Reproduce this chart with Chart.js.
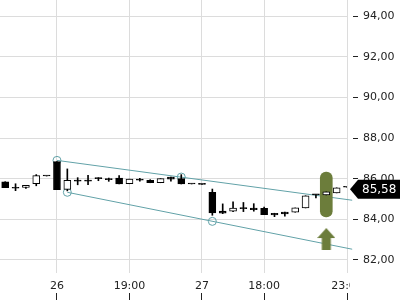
<!DOCTYPE html>
<html>
<head>
<meta charset="utf-8">
<script src="https://cdn.jsdelivr.net/npm/chart.js@4.4.0/dist/chart.umd.min.js"></script>
<style>
    html, body { margin: 0; padding: 0; background: #fff; }
</style>
</head>
<body>
<canvas id="myChart" width="400" height="300"></canvas>
<script>
// candles (one per bar, left to right)
const opens  = [85.85, 85.57, 85.57, 85.75, 86.13, 86.84, 85.47, 85.93, 85.93, 86.00, 85.95, 86.03, 85.75, 85.97, 85.92, 85.80, 86.08,
                86.00, 85.74, 85.72, 85.33, 84.40, 84.40, 84.56, 84.55, 84.54, 84.30, 84.36, 84.35, 84.56, 85.20, 85.20, 85.30, 85.58];
const highs  = [85.85, 85.75, 85.67, 86.20, 86.13, 86.84, 86.48, 86.05, 86.16, 86.05, 86.03, 86.15, 85.98, 86.02, 85.95, 86.00, 86.08,
                86.20, 85.74, 85.72, 85.49, 84.76, 84.86, 84.83, 84.77, 84.60, 84.30, 84.36, 84.56, 85.16, 85.20, 85.35, 85.55, 85.58];
const lows   = [85.56, 85.41, 85.52, 85.65, 86.13, 85.46, 85.40, 85.70, 85.70, 85.90, 85.87, 85.74, 85.75, 85.88, 85.80, 85.80, 85.88,
                85.74, 85.74, 85.72, 84.20, 84.28, 84.38, 84.38, 84.40, 84.23, 84.13, 84.15, 84.35, 84.56, 85.05, 85.20, 85.30, 85.58];
const closes = [85.56, 85.53, 85.67, 86.15, 86.13, 85.46, 85.92, 85.88, 85.88, 86.00, 85.95, 85.74, 85.98, 85.93, 85.80, 86.00, 85.98,
                85.74, 85.74, 85.72, 84.31, 84.30, 84.55, 84.53, 84.47, 84.23, 84.22, 84.27, 84.56, 85.16, 85.20, 85.35, 85.55, 85.58];

const xTickIdx = [5, 12, 19, 25, 33];
const xTickLabels = ['26', '19:00', '27', '18:00', '23:00'];
const yTickValues = [82, 84, 86, 88, 90, 92, 94];

// trend channel
const upperLine = [[5, 86.90], [33.5, 84.94]];
const lowerLine = [[6, 85.33], [33.5, 82.53]];
const touchPoints = [[5, 86.90], [17, 86.08], [6, 85.33], [20, 83.90]];

// signal marker
const signalIdx = 31;
const signalRange = [84.12, 86.33];
const arrowValue = 83.03;
const lastPrice = 85.58;

const teal = '#62a2a8';
const olive = '#6c7d3b';
const fmt = v => v.toFixed(2).replace('.', ',');

// little up arrow used as point style
const arrowImg = document.createElement('canvas');
arrowImg.width = 18;
arrowImg.height = 22;
const a = arrowImg.getContext('2d');
a.fillStyle = olive;
a.beginPath();
a.moveTo(9, 0);
a.lineTo(18, 10);
a.lineTo(13.5, 10);
a.lineTo(13.5, 22);
a.lineTo(4.5, 22);
a.lineTo(4.5, 10);
a.lineTo(0, 10);
a.closePath();
a.fill();

const bodies = [];
const wicks = [];
const bodyColors = [];
for (let i = 0; i < opens.length; i++) {
    bodies.push({ x: i, y: [opens[i], closes[i]] });
    wicks.push({ x: i, y: [lows[i], highs[i]] });
    bodyColors.push(closes[i] > opens[i] ? '#ffffff' : '#000000');
}

const priceTag = {
    id: 'priceTag',
    afterDraw(chart) {
        const ctx = chart.ctx;
        const area = chart.chartArea;
        const y = chart.scales.y.getPixelForValue(lastPrice) + 2;
        ctx.save();
        // last time label is cut at the price axis
        ctx.fillStyle = '#fff';
        ctx.fillRect(area.right + 3, area.bottom + 2, 60, 19);
        ctx.fillStyle = '#000';
        ctx.beginPath();
        ctx.moveTo(area.right + 3, y);
        ctx.lineTo(area.right + 11, y - 9.5);
        ctx.lineTo(400, y - 9.5);
        ctx.lineTo(400, y + 9.5);
        ctx.lineTo(area.right + 11, y + 9.5);
        ctx.closePath();
        ctx.fill();
        ctx.fillStyle = '#fff';
        ctx.font = '12px "DejaVu Sans"';
        ctx.textBaseline = 'middle';
        ctx.textAlign = 'left';
        ctx.fillText(fmt(lastPrice), area.right + 15, y + 0.5);
        ctx.restore();
    }
};

Chart.defaults.font.family = '"DejaVu Sans", sans-serif';
Chart.defaults.font.size = 11;

const ctx = document.getElementById('myChart').getContext('2d');
const myChart = new Chart(ctx, {
    type: 'bar',
    data: {
        datasets: [
            {
                type: 'line',
                data: upperLine.map(p => ({ x: p[0], y: p[1] })),
                borderColor: teal,
                borderWidth: 1,
                pointRadius: 0,
                clip: false,
                order: 7,
            },
            {
                type: 'line',
                data: lowerLine.map(p => ({ x: p[0], y: p[1] })),
                borderColor: teal,
                borderWidth: 1,
                pointRadius: 0,
                clip: false,
                order: 7,
            },
            {
                type: 'line',
                data: touchPoints.map(p => ({ x: p[0], y: p[1] })),
                showLine: false,
                pointRadius: 4,
                pointBorderWidth: 1,
                pointBorderColor: teal,
                pointBackgroundColor: 'rgba(0,0,0,0)',
                clip: false,
                order: 6,
            },
            {
                data: [{ x: signalIdx, y: signalRange }],
                backgroundColor: olive,
                borderRadius: 6,
                borderSkipped: false,
                barThickness: 12,
                grouped: false,
                order: 5,
            },
            {
                data: wicks,
                backgroundColor: '#000',
                barThickness: 1,
                grouped: false,
                order: 4,
            },
            {
                data: bodies,
                backgroundColor: bodyColors,
                borderColor: '#000',
                borderWidth: 1,
                borderSkipped: false,
                barThickness: 7,
                minBarLength: 1,
                grouped: false,
                order: 3,
            },
            {
                type: 'line',
                data: [{ x: signalIdx, y: arrowValue }],
                showLine: false,
                pointStyle: arrowImg,
                clip: false,
                order: 2,
            },
        ]
    },
    options: {
        responsive: false,
        animation: false,
        layout: { padding: 0, autoPadding: false },
        plugins: {
            legend: { display: false },
            tooltip: { enabled: false },
        },
        scales: {
            x: {
                type: 'linear',
                min: -0.5,
                max: 33,
                offset: false,
                afterBuildTicks: s => { s.ticks = xTickIdx.map(v => ({ value: v })); },
                afterFit: s => { s.height = 27; s.paddingLeft = 0; },
                border: { display: false },
                grid: {
                    offset: false,
                    color: '#dcdcdc',
                    tickLength: 27,
                    tickColor: '#222',
                    tickBorderDash: [0, 20, 7, 0],
                },
                ticks: {
                    padding: -20,
                    autoSkip: false,
                    maxRotation: 0,
                    color: '#222',
                    callback: v => xTickLabels[xTickIdx.indexOf(v)],
                },
            },
            y: {
                position: 'right',
                min: 81.36,
                max: 94.79,
                beginAtZero: false,
                afterBuildTicks: s => { s.ticks = yTickValues.map(v => ({ value: v })); },
                afterFit: s => { s.width = 53; s.paddingTop = 0; s.paddingBottom = 0; },
                border: { display: false },
                grid: {
                    color: '#dcdcdc',
                    tickLength: 11,
                    tickColor: '#222',
                    tickBorderDash: [0, 6, 5, 0],
                },
                ticks: {
                    padding: 5,
                    color: '#222',
                    callback: v => fmt(v),
                },
            },
        }
    },
    plugins: [priceTag]
});
</script>
</body>
</html>
